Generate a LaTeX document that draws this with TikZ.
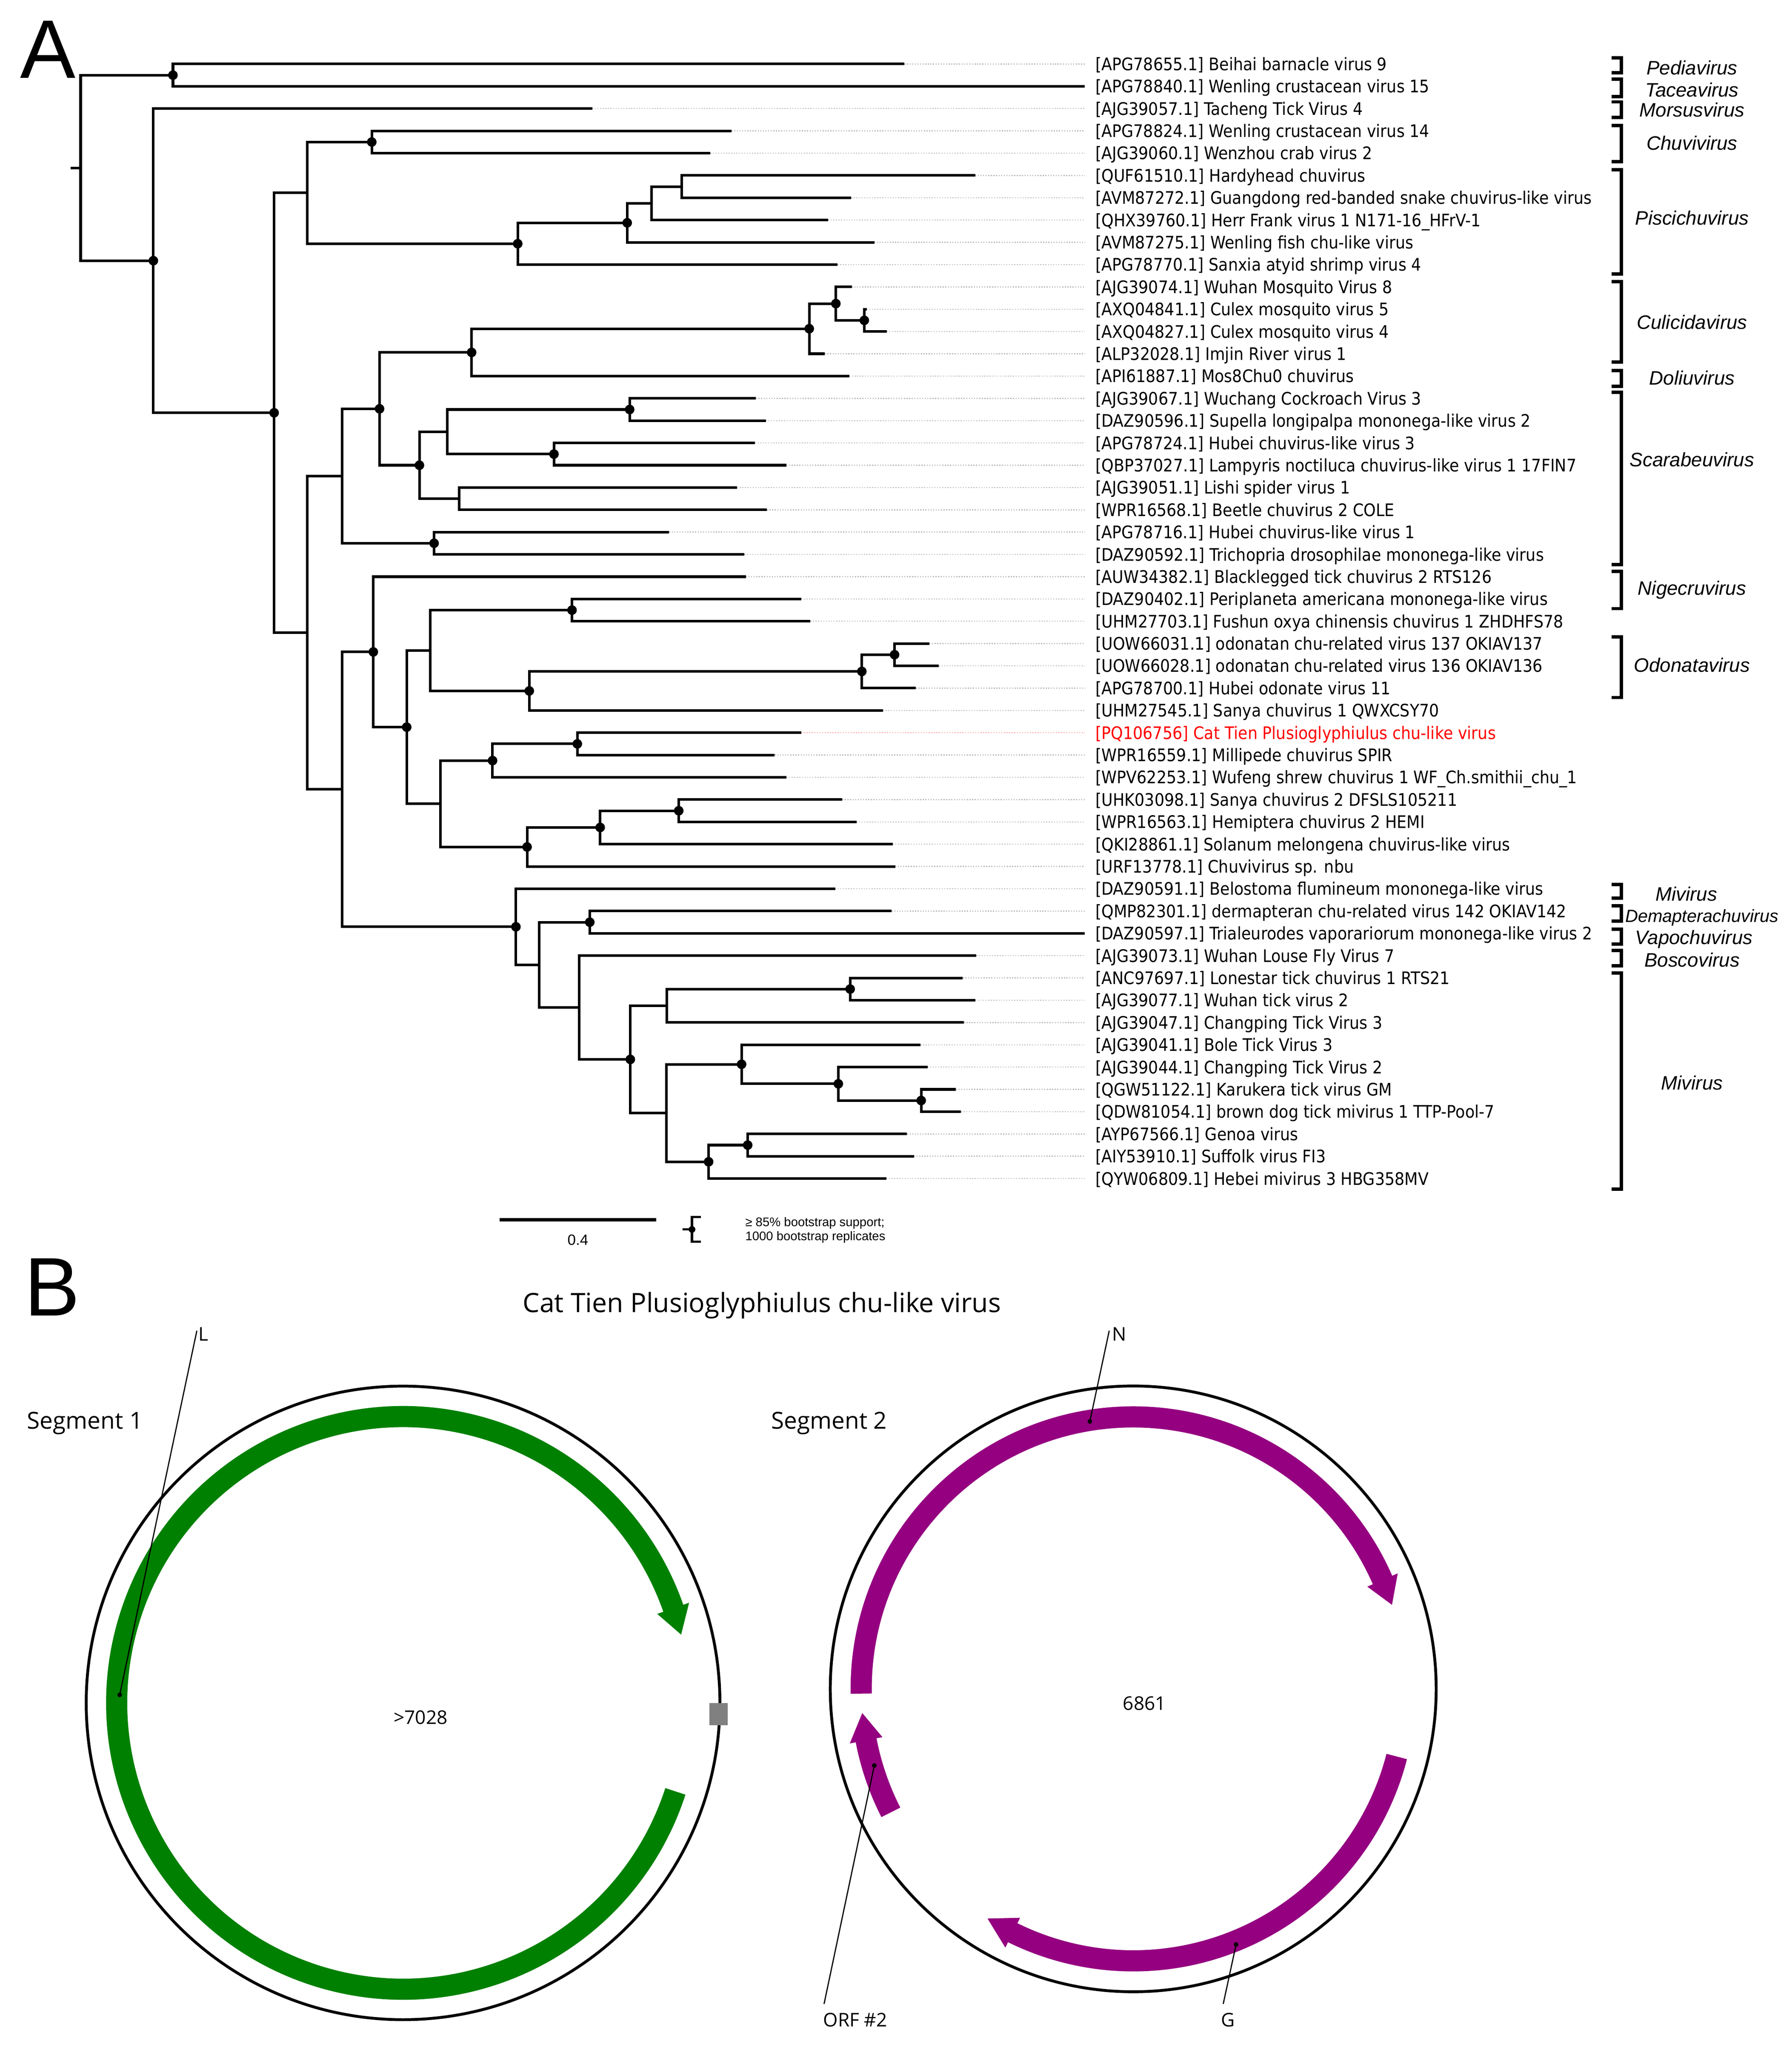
\documentclass[tikz,border=0pt]{standalone}
\usepackage{fontspec}
\setmainfont{Liberation Sans}
\newfontfamily\labfont[FakeStretch=0.9]{DejaVu Sans}
\newfontfamily\osfont{Open Sans}
\definecolor{gband}{RGB}{0,128,0}
\definecolor{pband}{RGB}{148,0,128}
\definecolor{guidegray}{RGB}{185,185,185}
\definecolor{guidered}{RGB}{255,160,160}
\definecolor{catred}{RGB}{255,0,0}
\definecolor{sqgray}{RGB}{128,128,128}
\newcommand\tipl[4]{%
  \coordinate (t#1) at (#2,#3);
  \coordinate (g#1) at (835.4,#3);
  \draw[guide] (t#1) -- (g#1);
  \node[lab] (l#1) at (843.4,#3+4.9) {#4};
}
\newcommand\kids[2]{\foreach \c in {#2}{\draw[br] (#1) |- (\c);}}
\newcommand\clbr[2]{\draw[brk] (1241,#1) -- (1248.7,#1) -- (1248.7,#2) -- (1241,#2);}
\begin{document}
\begin{tikzpicture}[x=1pt,y=-1pt,
  br/.style={line width=2pt, line join=miter},
  guide/.style={draw=guidegray, line width=0.8pt, dash pattern=on 0.8pt off 1.2pt},
  lab/.style={anchor=base west, inner sep=0pt, font=\labfont\fontsize{13.3}{16}\selectfont},
  clade/.style={anchor=base, inner sep=0pt, font=\itshape\fontsize{15}{18}\selectfont},
  brk/.style={line width=2.6pt, line join=miter},
  small/.style={anchor=base west, inner sep=0pt, font=\osfont\fontsize{14.5}{17}\selectfont},
  seg/.style={anchor=base west, inner sep=0pt, font=\osfont\fontsize{18}{22}\selectfont},
  panel/.style={anchor=base west, inner sep=0pt, font=\fontsize{64}{70}\selectfont},
  leader/.style={line width=0.9pt},
  band/.style={line width=16.3pt}]
\useasboundingbox (0,0) rectangle (1380,1576);
\fill[white] (0,0) rectangle (1380,1576);

% ---------- panel letters
\node[panel] (pA) at (15.5,60) {A};
\node[panel] (pB) at (18.6,1013.3) {B};

% ---------- tips and labels
\tipl{1}{696.5}{49.30}{[APG78655.1] Beihai barnacle virus 9}
\tipl{2}{835.4}{66.47}{[APG78840.1] Wenling crustacean virus 15}
\tipl{3}{456.1}{83.64}{[AJG39057.1] Tacheng Tick Virus 4}
\tipl{4}{563.5}{100.81}{[APG78824.1] Wenling crustacean virus 14}
\tipl{5}{547.1}{117.98}{[AJG39060.1] Wenzhou crab virus 2}
\tipl{6}{751.0}{135.15}{[QUF61510.1] Hardyhead chuvirus}
\tipl{7}{655.5}{152.32}{[AVM87272.1] Guangdong red-banded snake chuvirus-like virus}
\tipl{8}{637.7}{169.49}{[QHX39760.1] Herr Frank virus 1 N171-16\_HFrV-1}
\tipl{9}{673.3}{186.66}{[AVM87275.1] Wenling fish chu-like virus}
\tipl{10}{645.0}{203.83}{[APG78770.1] Sanxia atyid shrimp virus 4}
\tipl{11}{656.0}{221.00}{[AJG39074.1] Wuhan Mosquito Virus 8}
\tipl{12}{667.5}{238.17}{[AXQ04841.1] Culex mosquito virus 5}
\tipl{13}{682.9}{255.34}{[AXQ04827.1] Culex mosquito virus 4}
\tipl{14}{635.2}{272.51}{[ALP32028.1] Imjin River virus 1}
\tipl{15}{654.1}{289.68}{[API61887.1] Mos8Chu0 chuvirus}
\tipl{16}{582.1}{306.85}{[AJG39067.1] Wuchang Cockroach Virus 3}
\tipl{17}{589.8}{324.02}{[DAZ90596.1] Supella longipalpa mononega-like virus 2}
\tipl{18}{581.5}{341.19}{[APG78724.1] Hubei chuvirus-like virus 3}
\tipl{19}{605.6}{358.36}{[QBP37027.1] Lampyris noctiluca chuvirus-like virus 1 17FIN7}
\tipl{20}{567.6}{375.53}{[AJG39051.1] Lishi spider virus 1}
\tipl{21}{590.6}{392.70}{[WPR16568.1] Beetle chuvirus 2 COLE}
\tipl{22}{515.3}{409.87}{[APG78716.1] Hubei chuvirus-like virus 1}
\tipl{23}{573.3}{427.04}{[DAZ90592.1] Trichopria drosophilae mononega-like virus}
\tipl{24}{574.4}{444.21}{[AUW34382.1] Blacklegged tick chuvirus 2 RTS126}
\tipl{25}{617.1}{461.38}{[DAZ90402.1] Periplaneta americana mononega-like virus}
\tipl{26}{624.0}{478.55}{[UHM27703.1] Fushun oxya chinensis chuvirus 1 ZHDHFS78}
\tipl{27}{715.7}{495.72}{[UOW66031.1] odonatan chu-related virus 137 OKIAV137}
\tipl{28}{723.1}{512.89}{[UOW66028.1] odonatan chu-related virus 136 OKIAV136}
\tipl{29}{705.3}{530.06}{[APG78700.1] Hubei odonate virus 11}
\tipl{30}{680.1}{547.23}{[UHM27545.1] Sanya chuvirus 1 QWXCSY70}
\coordinate (t31) at (617.1,564.40);
\coordinate (g31) at (835.4,564.40);
\draw[guide, draw=guidered] (t31) -- (g31);
\node[lab, text=catred] (l31) at (843.4,569.3) {[PQ106756] Cat Tien Plusioglyphiulus chu-like virus};
\tipl{32}{596.6}{581.57}{[WPR16559.1] Millipede chuvirus SPIR}
\tipl{33}{605.6}{598.74}{[WPV62253.1] Wufeng shrew chuvirus 1 WF\_Ch.smithii\_chu\_1}
\tipl{34}{648.6}{615.91}{[UHK03098.1] Sanya chuvirus 2 DFSLS105211}
\tipl{35}{659.6}{633.08}{[WPR16563.1] Hemiptera chuvirus 2 HEMI}
\tipl{36}{687.5}{650.25}{[QKI28861.1] Solanum melongena chuvirus-like virus}
\tipl{37}{689.4}{667.42}{[URF13778.1] Chuvivirus sp. nbu}
\tipl{38}{643.2}{684.59}{[DAZ90591.1] Belostoma flumineum mononega-like virus}
\tipl{39}{686.7}{701.76}{[QMP82301.1] dermapteran chu-related virus 142 OKIAV142}
\tipl{40}{835.4}{718.93}{[DAZ90597.1] Trialeurodes vaporariorum mononega-like virus 2}
\tipl{41}{751.9}{736.10}{[AJG39073.1] Wuhan Louse Fly Virus 7}
\tipl{42}{741.4}{753.27}{[ANC97697.1] Lonestar tick chuvirus 1 RTS21}
\tipl{43}{751.0}{770.44}{[AJG39077.1] Wuhan tick virus 2}
\tipl{44}{742.3}{787.61}{[AJG39047.1] Changping Tick Virus 3}
\tipl{45}{708.9}{804.78}{[AJG39041.1] Bole Tick Virus 3}
\tipl{46}{714.3}{821.95}{[AJG39044.1] Changping Tick Virus 2}
\tipl{47}{736.2}{839.12}{[QGW51122.1] Karukera tick virus GM}
\tipl{48}{740.1}{856.29}{[QDW81054.1] brown dog tick mivirus 1 TTP-Pool-7}
\tipl{49}{698.5}{873.46}{[AYP67566.1] Genoa virus}
\tipl{50}{703.9}{890.63}{[AIY53910.1] Suffolk virus FI3}
\tipl{51}{682.6}{907.80}{[QYW06809.1] Hebei mivirus 3 HBG358MV}

% ---------- internal nodes
\coordinate (root) at (62.1,129.35);
\coordinate (rstub) at (54.4,129.35);
\coordinate (n133) at (133.2,57.89);
\coordinate (n118) at (118.1,200.8);
\coordinate (n211) at (211.1,317.96);
\coordinate (n236a) at (236.5,148.56);
\coordinate (n286) at (286.3,109.4);
\coordinate (n399) at (398.7,187.73);
\coordinate (n483) at (483,171.64);
\coordinate (n502) at (501.6,156.61);
\coordinate (n525) at (525.1,143.74);
\coordinate (n236b) at (236.5,487.36);
\coordinate (n263a) at (263.5,366.68);
\coordinate (n292) at (292.3,314.9);
\coordinate (n363) at (363.2,271.44);
\coordinate (n623) at (623.2,253.19);
\coordinate (n643) at (643.7,233.88);
\coordinate (n665) at (665.6,246.76);
\coordinate (n323) at (323,358.36);
\coordinate (n344) at (344.4,332.61);
\coordinate (n485) at (484.9,315.44);
\coordinate (n427) at (426.6,349.78);
\coordinate (n354) at (353.6,384.12);
\coordinate (n334) at (334.3,418.46);
\coordinate (n263b) at (263.5,608.03);
\coordinate (n288) at (287.5,502.16);
\coordinate (n313) at (313.2,560.1);
\coordinate (n331) at (331.2,501.08);
\coordinate (n440) at (440.5,469.96);
\coordinate (n408) at (407.6,532.2);
\coordinate (n664) at (663.7,517.18);
\coordinate (n689) at (688.9,504.3);
\coordinate (n339) at (339.1,619.13);
\coordinate (n379) at (379.3,585.86);
\coordinate (n445) at (444.6,572.98);
\coordinate (n406) at (405.9,652.4);
\coordinate (n462) at (462.2,637.37);
\coordinate (n523) at (522.7,624.5);
\coordinate (n397) at (397.3,713.9);
\coordinate (n415) at (415.1,743.21);
\coordinate (n454) at (454.2,710.35);
\coordinate (n446) at (446,776.07);
\coordinate (n485b) at (485.4,816.04);
\coordinate (n514) at (513.6,774.73);
\coordinate (n655) at (654.7,761.86);
\coordinate (n513) at (513.1,857.35);
\coordinate (n571) at (571.1,819.8);
\coordinate (n646) at (645.6,834.83);
\coordinate (n709) at (709.4,847.7);
\coordinate (n546) at (545.7,894.9);
\coordinate (n576) at (575.8,882.05);

% ---------- branches
\draw[br] (rstub) -- (root);
\kids{root}{n133,n118}
\kids{n133}{t1,t2}
\kids{n118}{t3,n211}
\kids{n211}{n236a,n236b}
\kids{n236a}{n286,n399}
\kids{n286}{t4,t5}
\kids{n399}{n483,t10}
\kids{n483}{n502,t9}
\kids{n502}{n525,t8}
\kids{n525}{t6,t7}
\kids{n236b}{n263a,n263b}
\kids{n263a}{n292,n334}
\kids{n292}{n363,n323}
\kids{n363}{n623,t15}
\kids{n623}{n643,t14}
\kids{n643}{t11,n665}
\kids{n665}{t12,t13}
\kids{n323}{n344,n354}
\kids{n344}{n485,n427}
\kids{n485}{t16,t17}
\kids{n427}{t18,t19}
\kids{n354}{t20,t21}
\kids{n334}{t22,t23}
\kids{n263b}{n288,n397}
\kids{n288}{t24,n313}
\kids{n313}{n331,n339}
\kids{n331}{n440,n408}
\kids{n440}{t25,t26}
\kids{n408}{n664,t30}
\kids{n664}{n689,t29}
\kids{n689}{t27,t28}
\kids{n339}{n379,n406}
\kids{n379}{n445,t33}
\kids{n445}{t31,t32}
\kids{n406}{n462,t37}
\kids{n462}{n523,t36}
\kids{n523}{t34,t35}
\kids{n397}{t38,n415}
\kids{n415}{n454,n446}
\kids{n454}{t39,t40}
\kids{n446}{t41,n485b}
\kids{n485b}{n514,n513}
\kids{n514}{n655,t44}
\kids{n655}{t42,t43}
\kids{n513}{n571,n546}
\kids{n571}{t45,n646}
\kids{n646}{t46,n709}
\kids{n709}{t47,t48}
\kids{n546}{n576,t51}
\kids{n576}{t49,t50}

% ---------- bootstrap dots
\foreach \n in {n133,n118,n211,n286,n399,n483,n643,n665,n623,n363,n292,n485,n323,n427,n334,n288,n440,n664,n689,n408,n313,n445,n379,n523,n462,n406,n397,n454,n485b,n655,n571,n646,n709,n546,n576}
  \fill (\n) circle[radius=3.7];

% ---------- clade brackets and names
\clbr{44.6}{55.9}   \node[clade] (c1) at (1303,57.5) {Pediavirus};
\clbr{61}{74.5}     \node[clade] (c2) at (1303,74.5) {Taceavirus};
\clbr{78.5}{90.6}   \node[clade] (c3) at (1303,90) {Morsusvirus};
\clbr{96.8}{124.5}  \node[clade] (c4) at (1303,115.4) {Chuvivirus};
\clbr{130.7}{211.1} \node[clade] (c5) at (1303,173.2) {Piscichuvirus};
\clbr{216.8}{278.8} \node[clade] (c6) at (1303,253.6) {Culicidavirus};
\clbr{285.3}{297.5} \node[clade] (c7) at (1303,296.5) {Doliuvirus};
\clbr{302.3}{434.9} \node[clade] (c8) at (1303,359.5) {Scarabeuvirus};
\clbr{440}{468.8}   \node[clade] (c9) at (1303,458.2) {Nigecruvirus};
\clbr{490.7}{537.3} \node[clade] (c10) at (1303,517.7) {Odonatavirus};
\clbr{681.2}{691.9} \node[clade] (c11) at (1298.6,693.8) {Mivirus};
\clbr{697.6}{709.4} \node[clade, anchor=base west, font=\itshape\fontsize{13.6}{16}\selectfont] (c12) at (1251.4,710.2) {Demapterachuvirus};
\clbr{715.6}{727.2} \node[clade] (c13) at (1304.5,727.3) {Vapochuvirus};
\clbr{732}{743.9}   \node[clade] (c14) at (1303,744.6) {Boscovirus};
\clbr{749.5}{916}   \node[clade] (c15) at (1303,839.4) {Mivirus};

% ---------- scale bar and legend
\coordinate (sb1) at (384.6,939.5);
\coordinate (sb2) at (505.3,939.5);
\draw[line width=2.5pt] (sb1) -- (sb2);
\node[anchor=base, inner sep=0pt, font=\fontsize{11.5}{14}\selectfont] (sbl) at (445,959) {0.4};
\coordinate (lg) at (532.9,947);
\draw[line width=1.8pt, line join=miter] (539.8,937.5) -- (532.9,937.5) -- (532.9,956.5) -- (539.8,956.5);
\draw[line width=1.8pt] (525.6,947) -- (lg);
\fill (lg) circle[radius=2.6];
\node[anchor=base west, inner sep=0pt, font=\fontsize{9.6}{11}\selectfont] (lgt1) at (573.8,944.5) {≥ 85\% bootstrap support;};
\node[anchor=base west, inner sep=0pt, font=\fontsize{9.6}{11}\selectfont] (lgt2) at (573.8,955.5) {1000 bootstrap replicates};

% ---------- panel B
\node[anchor=base, inner sep=0pt, font=\osfont\fontsize{20.5}{24}\selectfont] (title) at (586.7,1010.8) {Cat Tien Plusioglyphiulus chu-like virus};
\node[seg] (seg1) at (20.7,1100.5) {Segment 1};
\node[seg] (seg2) at (593.8,1100.5) {Segment 2};

% segment 1
\begin{scope}[shift={(310.4,1311.7)}, y=1pt]
  \draw[line width=2.2pt] (0,0) circle[radius=244];
  \draw[gband, band] (-18:220.5) arc[start angle=-18, end angle=-341, radius=220.5];
  \fill[gband] (19.3:207.4) -- (19.3:233.4) -- (13.8:220.5) -- cycle;
\end{scope}
\fill[sqgray] (546.2,1311.7) rectangle (560.5,1328.8);
\node[small] (len1) at (303,1328) {>7028};
\node[small] (labL) at (152.7,1032.8) {L};
\coordinate (Lt) at (151.6,1025);
\coordinate (Le) at (92.2,1305.5);
\draw[leader] (Lt) -- (Le);
\fill (Le) circle[radius=1.8];

% segment 2
\begin{scope}[shift={(872.7,1300.9)}, y=1pt]
  \draw[line width=2.2pt] (0,0) circle[radius=233.3];
  \draw[pband, band] (181:209.5) arc[start angle=181, end angle=23.3, radius=209.5];
  \fill[pband] (23.6:196.7) -- (23.6:222.3) -- (18:209.5) -- cycle;
  \draw[pband, band] (-14.4:209.5) arc[start angle=-14.4, end angle=-116.6, radius=209.5];
  \fill[pband] (-116.3:196.7) -- (-116.3:222.3) -- (-122.4:209.5) -- cycle;
  \draw[pband, band] (207:209.5) arc[start angle=207, end angle=190.6, radius=209.5];
  \fill[pband] (190.9:196.7) -- (190.9:222.3) -- (185.1:209.5) -- cycle;
\end{scope}
\node[small] (len2) at (864.6,1317.1) {6861};
\node[small] (labN) at (856.4,1032.8) {N};
\coordinate (Nt) at (854.2,1025);
\coordinate (Ne) at (839.3,1094.9);
\draw[leader] (Nt) -- (Ne);
\fill (Ne) circle[radius=1.8];
\node[small] (labO) at (633.8,1561) {ORF \#2};
\coordinate (Ot) at (634.6,1543.6);
\coordinate (Oe) at (673.3,1359.9);
\draw[leader] (Ot) -- (Oe);
\fill (Oe) circle[radius=1.8];
\node[small] (labG) at (940.2,1561) {G};
\coordinate (Gt) at (942,1543.6);
\coordinate (Ge) at (951.9,1497.8);
\draw[leader] (Gt) -- (Ge);
\fill (Ge) circle[radius=1.8];
\end{tikzpicture}
\end{document}
